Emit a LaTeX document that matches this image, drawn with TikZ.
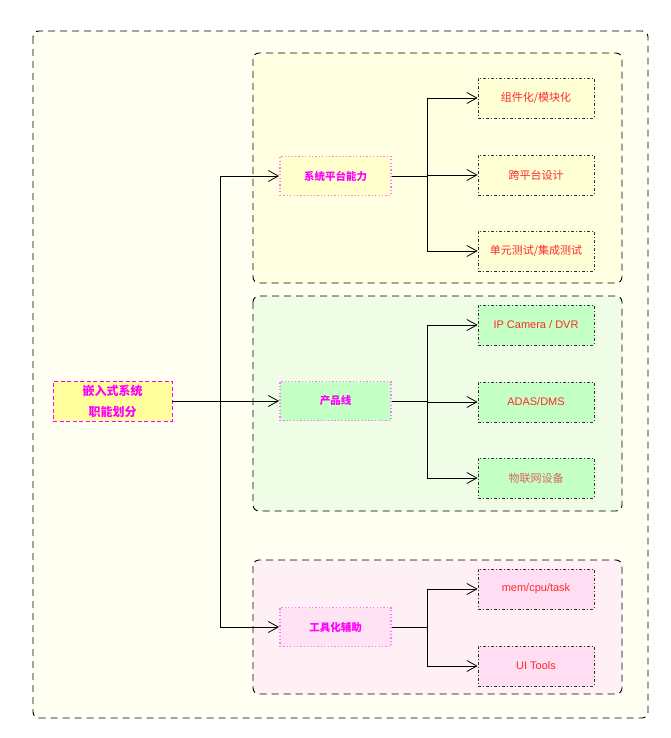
\documentclass[tikz,border=0pt]{standalone}
\usepackage{fontspec}
\setmainfont{Liberation Sans}
\newfontfamily\cjk{Noto Sans CJK SC}
\usepackage{tikz}
\usetikzlibrary{arrows.meta}

\definecolor{pageivory}{HTML}{FFFFF2}
\definecolor{grpyellow}{HTML}{FFFFE2}
\definecolor{grpgreen}{HTML}{F0FDE6}
\definecolor{grppink}{HTML}{FEF0F4}
\definecolor{mainfill}{HTML}{FFFF9E}
\definecolor{midyellow}{HTML}{FFFFCC}
\definecolor{midgreen}{HTML}{C4FFC4}
\definecolor{midpink}{HTML}{FFE2F4}
\definecolor{leafyellow}{HTML}{FFFFD6}
\definecolor{leafgreen}{HTML}{C4FFC4}
\definecolor{leafpink}{HTML}{FFDDF2}
\definecolor{magtext}{HTML}{FF00FF}
\definecolor{leafred}{HTML}{FF2A2A}

\begin{document}
\begin{tikzpicture}[x=1pt, y=-1pt,
  frame/.style={draw=black, line width=0.9pt, dash pattern=on 7pt off 5pt, rounded corners=6pt},
  mainbox/.style={draw=magtext, line width=0.9pt, dash pattern=on 4pt off 2.5pt, fill=mainfill,
    minimum width=119pt, minimum height=40pt, inner sep=0pt, align=center,
    text=magtext, font=\cjk\bfseries\fontsize{12}{21}\selectfont},
  midbox/.style={draw=magtext!55, line width=1.8pt, dash pattern=on 1.2pt off 2.2pt, minimum width=111pt,
    minimum height=39pt, inner sep=0pt, text=magtext,
    font=\cjk\bfseries\fontsize{10.5}{12}\selectfont},
  leafbox/.style={draw=black!80, line width=0.7pt, dash pattern=on 3pt off 2pt on 1pt off 2pt,
    minimum width=116pt, minimum height=40pt, inner sep=0pt, text=leafred,
    font=\fontsize{11}{13}\selectfont},
  arr/.style={-{Straight Barb[length=10pt,width=11pt]}, black, line width=0.8pt},
  line/.style={black, line width=0.8pt}]
\useasboundingbox (0,0) rectangle (670,738);
%--- outer frame ---
\draw[frame, fill=pageivory] (33,31) rectangle (648,718);
%--- group frames ---
\draw[frame, fill=grpyellow] (253,53) rectangle (622,283);
\draw[frame, fill=grpgreen] (253,296) rectangle (622,511);
\draw[frame, fill=grppink] (253,560) rectangle (622,694);

%--- root ---
\node[mainbox] (root) at (112.5,401) {嵌入式系统\\职能划分};

%--- second level ---
\node[midbox, fill=midyellow] (plat) at (335.5,176) {系统平台能力};
\node[midbox, fill=midgreen] (prod) at (335.5,401) {产品线};
\node[midbox, fill=midpink] (tool) at (335.5,627) {工具化辅助};

%--- leaves ---
\node[leafbox, fill=leafyellow, font=\cjk\fontsize{11}{13}\selectfont] (modu) at (536,98) {组件化/模块化};
\node[leafbox, fill=leafyellow, font=\cjk\fontsize{11}{13}\selectfont] (cross) at (536,175) {跨平台设计};
\node[leafbox, fill=leafyellow, font=\cjk\fontsize{11}{13}\selectfont] (test) at (536,251) {单元测试/集成测试};
\node[leafbox, fill=leafgreen] (ipc) at (536,325) {IP Camera / DVR};
\node[leafbox, fill=leafgreen] (adas) at (536,402) {ADAS/DMS};
\node[leafbox, fill=leafgreen, font=\cjk\fontsize{11}{13}\selectfont, text=leafred!80!black!70] (iot) at (536,478) {物联网设备};
\node[leafbox, fill=leafpink] (mem) at (536,589) {mem/cpu/task};
\node[leafbox, fill=leafpink] (ui) at (536,666) {UI Tools};

%--- junctions ---
\coordinate (jroot) at (220,401);
\coordinate (jplat) at (427,176);
\coordinate (jprod) at (427,401);
\coordinate (jtool) at (427,627);

%--- connectors ---
\draw[line] (root.east) -- (jroot);
\draw[arr] (jroot) |- (plat.west);
\draw[arr] (jroot) -- (prod.west);
\draw[arr] (jroot) |- (tool.west);

\draw[line] (plat.east) -- (jplat);
\draw[arr] (jplat) |- (modu.west);
\draw[arr] (jplat) |- (cross.west);
\draw[arr] (jplat) |- (test.west);

\draw[line] (prod.east) -- (jprod);
\draw[arr] (jprod) |- (ipc.west);
\draw[arr] (jprod) |- (adas.west);
\draw[arr] (jprod) |- (iot.west);

\draw[line] (tool.east) -- (jtool);
\draw[arr] (jtool) |- (mem.west);
\draw[arr] (jtool) |- (ui.west);
\end{tikzpicture}
\end{document}
